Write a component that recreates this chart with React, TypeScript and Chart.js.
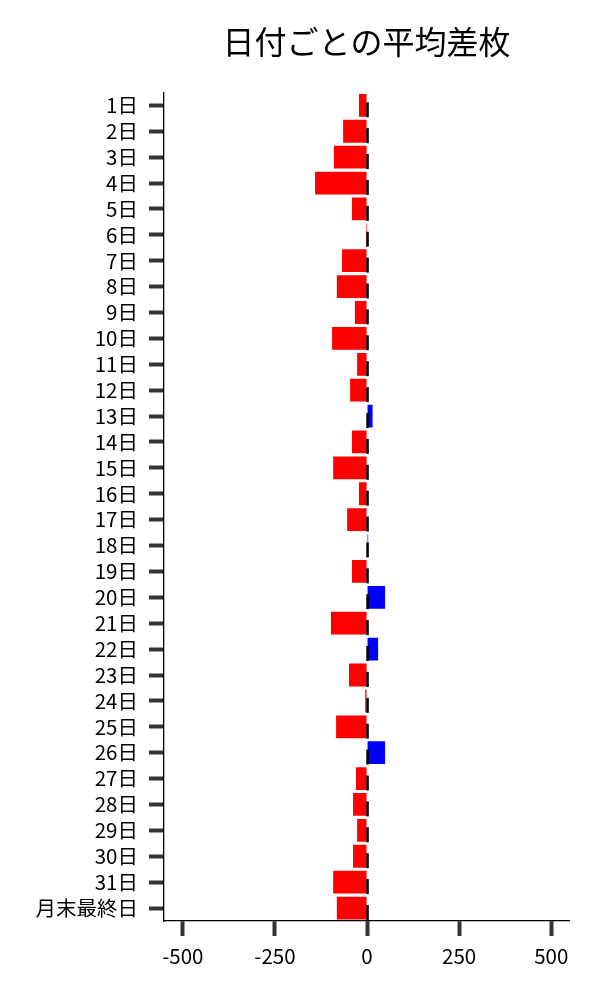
import React, { useEffect, useRef } from "react";
import { Chart, registerables } from "chart.js";

Chart.register(...registerables);

const categories = [
  "1日", "2日", "3日", "4日", "5日", "6日", "7日", "8日", "9日", "10日",
  "11日", "12日", "13日", "14日", "15日", "16日", "17日", "18日", "19日", "20日",
  "21日", "22日", "23日", "24日", "25日", "26日", "27日", "28日", "29日", "30日",
  "31日", "月末最終日",
];

const avgDiff = [
  -22, -65, -90, -141, -41, -3, -68, -82, -33, -95,
  -27, -46, 15, -41, -92, -22, -54, 3, -41, 49,
  -98, 30, -49, -5, -84, 49, -30, -38, -27, -38,
  -92, -82,
];

const xTicks = [-500, -250, 0, 250, 500];
const xMin = -551;
const xMax = 548;

const titleText = "日付ごとの平均差枚";
const FONT = "'Noto Sans CJK JP', 'Noto Sans', sans-serif";

export default function App() {
  const ref = useRef<HTMLCanvasElement | null>(null);

  useEffect(() => {
    document.body.style.margin = "0";
    const canvas = ref.current;
    if (!canvas) return;

    const zeroMarks = {
      id: "zeroMarks",
      afterDatasetsDraw(chart: any) {
        const xs = chart.scales.x;
        const ys = chart.scales.y;
        const ctx = chart.ctx;
        const x0 = xs.getPixelForValue(0);
        const step = ys.getPixelForValue(1) - ys.getPixelForValue(0);
        ctx.save();
        ctx.strokeStyle = "#000";
        ctx.lineWidth = 2.5;
        categories.forEach((_, i) => {
          const yc = ys.getPixelForValue(i);
          ctx.beginPath();
          ctx.moveTo(x0 + 0.5, yc - 0.12 * step);
          ctx.lineTo(x0 + 0.5, yc + 0.46 * step);
          ctx.stroke();
        });
        ctx.restore();
      },
    };

    const chart = new Chart(canvas, {
      type: "bar",
      data: {
        labels: categories,
        datasets: [
          {
            data: avgDiff,
            backgroundColor: avgDiff.map((v) => (v < 0 ? "#ff0000" : "#0000ff")),
            borderWidth: 0,
            barPercentage: 0.88,
            categoryPercentage: 1,
          },
        ],
      },
      options: {
        indexAxis: "y",
        animation: false,
        responsive: false,
        maintainAspectRatio: false,
        layout: { padding: { top: 0, right: 31, bottom: 0, left: 0 } },
        plugins: {
          legend: { display: false },
          tooltip: { enabled: false },
          title: {
            display: true,
            text: titleText,
            fullSize: false,
            color: "#000",
            font: { family: FONT, size: 32, weight: "normal" },
            padding: { top: 23, bottom: 31 },
          },
        },
        scales: {
          x: {
            type: "linear",
            min: xMin,
            max: xMax,
            afterBuildTicks: (scale: any) => {
              scale.ticks = xTicks.map((v) => ({ value: v }));
            },
            afterFit: (scale: any) => {
              scale.height = 79;
            },
            grid: {
              display: true,
              drawOnChartArea: false,
              drawTicks: true,
              tickLength: 15,
              tickWidth: 4,
              tickColor: "#333",
            },
            border: { display: true, color: "#000", width: 1.3 },
            ticks: {
              color: "#000",
              padding: 8,
              maxRotation: 0,
              font: { family: FONT, size: 20.5 },
            },
          },
          y: {
            type: "category",
            offset: true,
            afterFit: (scale: any) => {
              scale.width = 164;
            },
            grid: {
              display: true,
              offset: false,
              drawOnChartArea: false,
              drawTicks: true,
              tickLength: 15,
              tickWidth: 4,
              tickColor: "#333",
            },
            border: { display: true, color: "#000", width: 1.3 },
            ticks: {
              color: "#000",
              padding: 11,
              autoSkip: false,
              font: { family: FONT, size: 20.5 },
            },
          },
        },
      },
      plugins: [zeroMarks],
    } as any);

    return () => chart.destroy();
  }, []);

  return (
    <div style={{ width: 600, height: 1000 }}>
      <canvas ref={ref} width={600} height={1000} style={{ width: 600, height: 1000, display: "block" }} />
    </div>
  );
}
